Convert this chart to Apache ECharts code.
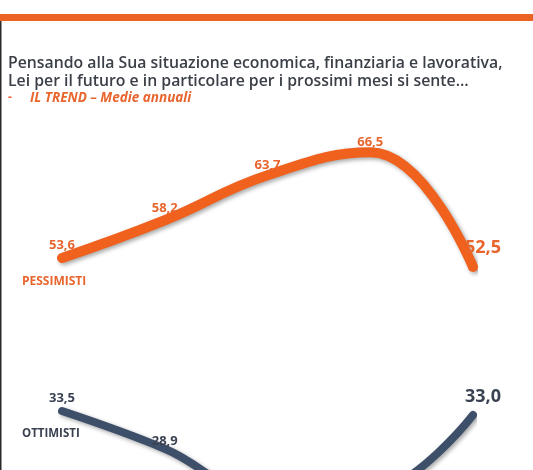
<!DOCTYPE html>
<html lang="it">
<head>
  <meta charset="UTF-8">
  <title>Il trend - medie annuali</title>
  <style>
    html, body { margin: 0; padding: 0; width: 100%; height: 100%; background: #fff; }
    #main { width: 533px; height: 470px; }
  </style>
</head>
<body>
  <div id="main"></div>
  <script src="https://cdn.jsdelivr.net/npm/echarts@6/dist/echarts.min.js"></script>
  <script>
    // dati (i due valori centrali degli ottimisti sono fuori dall'immagine: stimati)
    const anni = ['1', '2', '3', '4', '5'];
    const pessimisti = [53.6, 58.2, 63.7, 66.5, 52.5];
    const ottimisti = [33.5, 28.9, 23.0, 23.5, 33.0];

    const orange = '#F0611E';
    const orangeText = '#E8652E';
    const blue = '#3E4F6A';
    const blueText = '#3A4252';
    const font = '"Open Sans", Lato, sans-serif';

    // distanza etichetta-punto
    const pessDist = [6, 5, 3, 3, 10];
    const ottDist = [6, 0, 4, 4, 9];

    function labelData(values, dist) {
      return values.map(function (v, i) {
        const last = i === values.length - 1;
        return {
          value: v,
          label: {
            distance: dist[i],
            fontSize: last ? 18 : 13,
            offset: last ? [10, 0] : [0, 0]
          }
        };
      });
    }

    function fmt(p) {
      return p.value.toFixed(1).replace('.', ',');
    }

    const lineShadow = {
      shadowColor: 'rgba(0,0,0,0.35)',
      shadowBlur: 4,
      shadowOffsetX: 2,
      shadowOffsetY: 2
    };

    const option = {
      animation: false,
      grid: [
        { left: 62, width: 411, top: 123.5, height: 180.4 },
        { left: 62, width: 411, top: 390.5, bottom: 0 }
      ],
      xAxis: [
        { type: 'category', gridIndex: 0, data: anni, boundaryGap: false, show: false },
        { type: 'category', gridIndex: 1, data: anni, boundaryGap: false, show: false }
      ],
      yAxis: [
        { type: 'value', gridIndex: 0, min: 48, max: 70, show: false, splitLine: { show: false } },
        { type: 'value', gridIndex: 1, min: 26.3, max: 36, show: false, splitLine: { show: false } }
      ],
      series: [
        {
          name: 'PESSIMISTI',
          type: 'line',
          xAxisIndex: 0,
          yAxisIndex: 0,
          smooth: 0.45,
          symbol: 'circle',
          symbolSize: 1,
          itemStyle: { color: orange },
          lineStyle: Object.assign({ width: 10, color: orange, cap: 'round', join: 'round' }, lineShadow),
          label: {
            show: true,
            position: 'top',
            color: orangeText,
            fontFamily: font,
            fontWeight: 'bold',
            formatter: fmt
          },
          data: labelData(pessimisti, pessDist),
          clip: false
        },
        {
          name: 'OTTIMISTI',
          type: 'line',
          xAxisIndex: 1,
          yAxisIndex: 1,
          smooth: 0.4,
          symbol: 'circle',
          symbolSize: 1,
          itemStyle: { color: blue },
          lineStyle: Object.assign({ width: 8, color: blue, cap: 'round', join: 'round' }, lineShadow),
          label: {
            show: true,
            position: 'top',
            color: blueText,
            fontFamily: font,
            fontWeight: 'bold',
            formatter: fmt
          },
          data: labelData(ottimisti, ottDist),
          clip: false
        }
      ],
      graphic: [
        { type: 'rect', shape: { x: 0, y: 14, width: 533, height: 7 }, style: { fill: '#EC6424' } },
        { type: 'rect', shape: { x: 0, y: 21, width: 1.5, height: 449 }, style: { fill: '#2a2a2a' } },
        {
          type: 'text', left: 8, top: 54,
          style: {
            text: 'Pensando alla Sua situazione economica, finanziaria e lavorativa,\nLei per il futuro e in particolare per i prossimi mesi si sente\u2026',
            fill: '#3B3F47', font: '600 15.8px ' + font, lineHeight: 18.5
          }
        },
        {
          type: 'text', left: 8, top: 92,
          style: { text: '-', fill: '#E8652E', font: 'bold 12px ' + font }
        },
        {
          type: 'text', left: 30, top: 91,
          style: { text: 'IL TREND \u2013 Medie annuali', fill: '#E8652E', font: 'italic bold 13.5px ' + font }
        },
        {
          type: 'text', left: 22, top: 276,
          style: { text: 'PESSIMISTI', fill: orangeText, font: 'bold 12px ' + font }
        },
        {
          type: 'text', left: 22, top: 428,
          style: { text: 'OTTIMISTI', fill: blueText, font: 'bold 11.5px ' + font }
        }
      ]
    };

    const myChart = echarts.init(document.getElementById('main'));
    myChart.setOption(option);
  </script>
</body>
</html>
